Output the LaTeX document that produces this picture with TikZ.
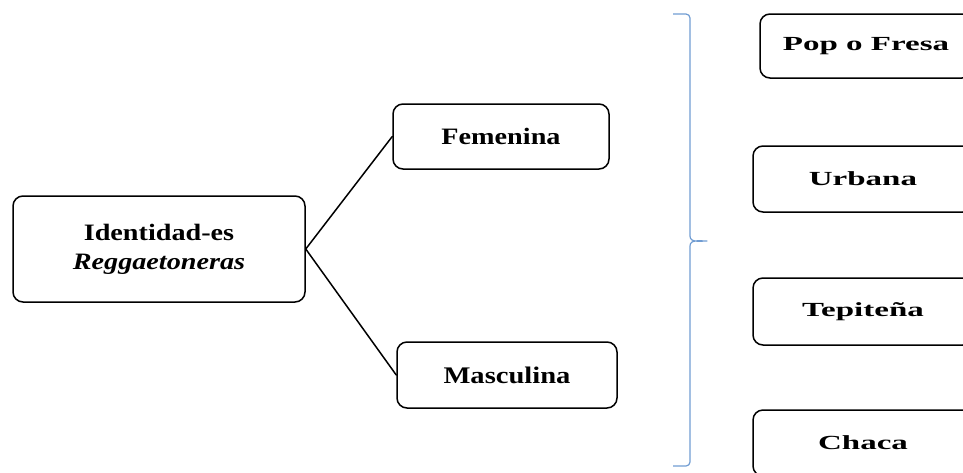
\documentclass[tikz,border=0pt]{standalone}
\usepackage{fontspec}
\setmainfont{Liberation Serif}
\newfontfamily\leftfont[FakeStretch=1.2]{Liberation Serif}
\newfontfamily\rightfont[FakeStretch=1.65]{Liberation Serif}
\definecolor{bracecol}{RGB}{112,156,210}
\begin{document}
\begin{tikzpicture}[x=1pt,y=-1pt,line cap=round,line join=round]
\tikzset{
  box/.style={draw,line width=1.5pt,rounded corners=10pt,align=center,inner sep=0pt},
  leftbox/.style={box,font=\leftfont\bfseries},
  rightbox/.style={box,minimum width=220pt,minimum height=66pt,font=\rightfont\bfseries\fontsize{20}{24}\selectfont},
}
\useasboundingbox (0,0) rectangle (963,472);
\clip (0,0) rectangle (963,472);

% main box
\coordinate (I) at (159,249);
\node[leftbox,minimum width=292pt,minimum height=106pt,
  font=\leftfont\bfseries\fontsize{23.5}{29}\selectfont] (ident) at (I)
  {Identidad-es\\ \textit{Reggaetoneras}};

% middle boxes
\coordinate (F) at (501,136.5);
\coordinate (M) at (507,375);
\node[leftbox,minimum width=216pt,minimum height=65pt] (fem) at (F)
  {\fontsize{23.5}{28}\selectfont Femenina};
\node[leftbox,minimum width=220pt,minimum height=66pt] (masc) at (M)
  {\fontsize{23.8}{28}\selectfont Masculina};

\draw[line width=1.5pt] (ident.east) -- (fem.west);
\draw[line width=1.5pt] (ident.east) -- (masc.west);

% brace
\coordinate (T) at (673,14);
\coordinate (P) at (707,241);
\coordinate (B) at (673,466);
\draw[bracecol,line width=1.2pt,line cap=butt]
  (T) -- (686,14) to[out=0,in=90] (690,18) -- (690,236)
  to[out=-90,in=180] (P) to[out=180,in=90] (690,246) -- (690,462)
  to[out=-90,in=0] (686,466) -- (B);

% right boxes
\node[rightbox,minimum width=212pt,minimum height=64pt] (pop) at (866,46) {Pop o Fresa};
\node[rightbox] (urb) at (863,179) {Urbana};
\node[rightbox,minimum height=67pt] (tep) at (863,311.5) {Tepiteña};
\node[rightbox] (cha) at (863,443) {Chaca};

\end{tikzpicture}
\end{document}
